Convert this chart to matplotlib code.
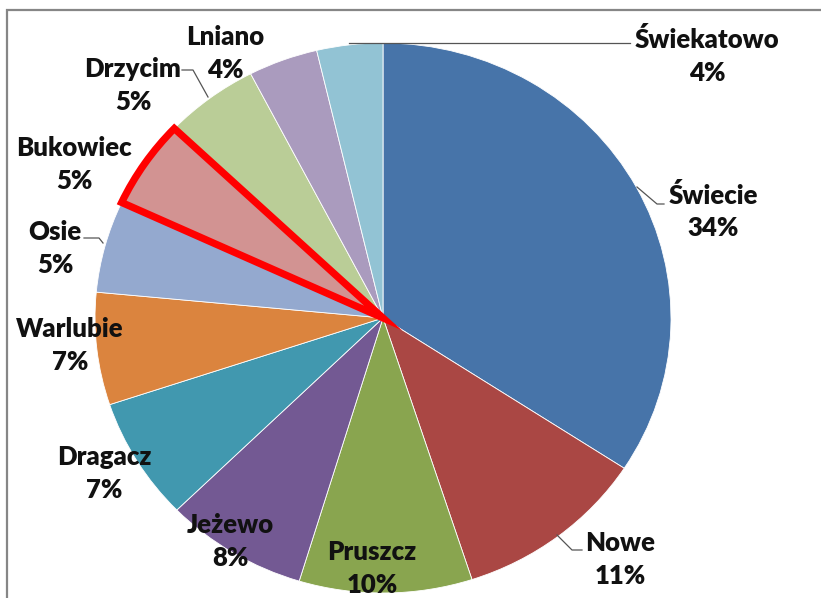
import matplotlib
matplotlib.use("Agg")
import matplotlib.pyplot as plt
from matplotlib.patches import Rectangle

# gminy and their share
names = ["Świecie", "Nowe", "Pruszcz", "Jeżewo", "Dragacz", "Warlubie",
         "Osie", "Bukowiec", "Drzycim", "Lniano", "Świekatowo"]
shares = [34.2, 10.8, 9.7, 8.0, 7.2, 6.6, 5.4, 5.2, 5.3, 3.9, 3.7]
colors = ["#4774A9", "#AA4744", "#89A54F", "#735993", "#4198AF", "#DB843E",
          "#94A9CF", "#D29392", "#BACD97", "#AA9BBE", "#92C3D4"]
highlight = "Bukowiec"

# label anchors in pixels (x, y of the name line), layout only
label_px = {
    "Świekatowo": (707, 40), "Świecie": (713, 195), "Nowe": (620, 543),
    "Pruszcz": (372, 552), "Jeżewo": (230, 525), "Dragacz": (104, 457),
    "Warlubie": (70, 329), "Osie": (55, 232), "Bukowiec": (74, 148),
    "Drzycim": (133, 69), "Lniano": (225, 37),
}
# leader lines in pixels
leaders = {
    "Świekatowo": [(349, 43), (630, 43)],
    "Świecie": [(637, 187), (657, 204), (664, 204)],
    "Nowe": [(557, 535), (572, 550), (582, 550)],
    "Drzycim": [(182, 70), (193, 70), (208, 97)],
    "Osie": [(84, 238), (99, 238), (103, 243)],
}

W, H = 821, 598
cx, cy, rx, ry = 383, 318, 288, 275

fig = plt.figure(figsize=(W / 100, H / 100), dpi=100)
fig.patch.set_facecolor("white")

# chart border (runs off the right and bottom edges)
fig.patches.append(Rectangle((7 / W, -0.1), 1.2, (H - 10) / H + 0.1,
                             transform=fig.transFigure, fill=False,
                             edgecolor="#868686", linewidth=1.6))

ax = fig.add_axes([(cx - rx) / W, (H - cy - ry) / H, 2 * rx / W, 2 * ry / H])
wedges, _ = ax.pie(shares, colors=colors, startangle=90, counterclock=False,
                   radius=1, wedgeprops=dict(edgecolor="white", linewidth=0.6))
ax.set_aspect("auto")
ax.set_xlim(-1, 1)
ax.set_ylim(-1, 1)
ax.axis("off")

for w, n in zip(wedges, names):
    if n == highlight:
        w.set_edgecolor("#FF0000")
        w.set_linewidth(5.2)
        w.set_joinstyle("miter")
        w.set_zorder(5)


def to_data(px, py):
    return (px - cx) / rx, (cy - py) / ry


for n, s in zip(names, shares):
    x, y = to_data(*label_px[n])
    ax.text(x, y, n, ha="center", va="center", fontsize=18.5, fontweight="heavy",
            family="Lato", color="#111111", clip_on=False, zorder=10)
    x2, y2 = to_data(label_px[n][0], label_px[n][1] + 33)
    ax.text(x2, y2, "%d%%" % round(s), ha="center", va="center", fontsize=18.5,
            fontweight="heavy", family="Lato", color="#111111", clip_on=False,
            zorder=10)

for n, pts in leaders.items():
    xs, ys = zip(*[to_data(p, q) for p, q in pts])
    ax.plot(xs, ys, color="#555555", linewidth=0.9, clip_on=False, zorder=4)

fig.savefig("out.png", dpi=100)
